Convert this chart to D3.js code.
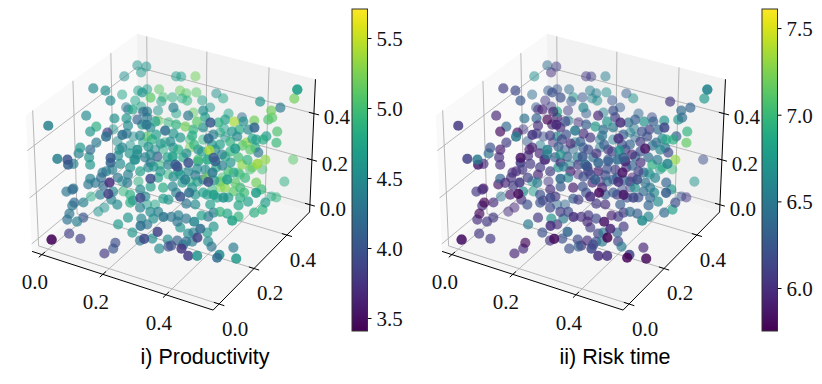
<!DOCTYPE html>
<html>
<head>
<meta charset="utf-8">
<script src="https://cdn.jsdelivr.net/npm/d3@7"></script>
<style>
  html, body { margin: 0; background: #fff; }
  svg { display: block; }
  .tick-label { font-family: "Liberation Serif", serif; font-size: 21px; fill: #111; }
  .panel-title { font-family: "Liberation Sans", sans-serif; font-size: 21.5px; fill: #000; }
</style>
</head>
<body>
<div id="chart"></div>
<script>
// positions of the samples
const xValues = [
  .029,.052,.043,.004,.009,.040,.012,.059,.011,.002,
  .043,.032,.074,.145,.015,.121,.182,.070,.054,.019,
  .019,.045,.047,.046,.070,.034,.069,.170,.115,.116,
  .142,.227,.161,.098,.182,.049,.070,.130,.100,.154,
  .116,.114,.049,.031,.118,.068,.113,.146,.155,.038,
  .110,.081,.137,.121,.159,.152,.231,.279,.147,.173,
  .187,.153,.133,.153,.211,.193,.236,.160,.133,.146,
  .181,.502,.502,.501,.245,.266,.421,.474,.454,.461,
  .453,.153,.170,.195,.164,.178,.139,.215,.240,.290,
  .216,.160,.257,.202,.290,.326,.372,.420,.394,.380,
  .283,.335,.258,.301,.412,.486,.290,.390,.331,.386,
  .390,.483,.460,.438,.455,.428,.416,.489,.299,.377,
  .409,.455,.354,.335,.246,.213,.253,.305,.396,.411,
  .375,.452,.243,.219,.234,.314,.274,.312,.398,.431,
  .474,.484,.279,.283,.014,.014,.052,.083,.170,.169,
  .151,.016,.029,.031,.064,.065,.065,.043,.040,.039,
  .038,.063,.075,.037,.049,.008,.090,.098,.090,.184,
  .101,.189,.100,.129,.130,.148,.164,.183,.204,.286,
  .216,.234,.330,.228,.303,.256,.294,.301,.280,.245,
  .334,.252,.153,.173,.255,.267,.183,.178,.210,.085,
  .172,.115,.157,.075,.277,.180,.197,.153,.127,.173,
  .055,.075,.014,.209,.157,.184,.228,.247,.478,.518,
  .448,.414,.357,.406,.457,.380,.415,.338,.418,.325,
  .290,.269,.359,.377,.329,.358,.436,.384,.461,.411,
  .396,.419,.433,.446,.468,.534,.485,.462,.441,.456,
  .469,.504,.502,.484,.497,.449,.420,.401,.386,.376,
  .359,.409,.324,.303,.287,.305,.316,.428,.385,.396,
  .339,.351,.427,.355,.340,.318,.307,.335,.397,.418,
  .439,.393,.405,.490,.487,.458,.532,.326,.355,.313,
  .417,.374,.392,.316,.321,.362,.422,.384,.346,.323,
  .279,.264,.359,.332,.304,.347,.244,
  .174,.193,.210,.232,.257,.279,.292,.316,.346,.366,
  .384,.407,.431,.199,.229,.243,.272,.296,.316,.365,
  .393,.361,.336,.317,.282,.268,.314,.216,.193,.153,
  .131,.158,.120,.183,.155,.119,.182,.234,.281,.299,
  .349,.374,.441,.438,.418,.372,.440,.336,.112,.080,
  .233,.205
];
const yValues = [
  .443,.454,.440,.411,.238,.252,.385,.247,.195,.020,
  .196,.181,.204,.085,.329,.230,.109,.349,.177,.148,
  .139,.159,.149,-.007,.006,.320,.333,.066,.200,.191,
  .210,.112,.219,.356,.227,.413,.428,.301,.445,.306,
  .441,.433,.396,.375,.267,.397,.416,.279,.285,.375,
  .248,.231,.262,.404,.278,.263,.154,.172,.417,.255,
  .258,.388,.364,.376,.245,.237,.258,.210,.485,.492,
  .513,.521,.521,.506,.522,.525,.454,.475,.459,.452,
  .444,.473,.479,.494,.466,.471,.454,.493,.495,.364,
  .326,.439,.337,.465,.514,.529,.394,.423,.407,.242,
  .342,.371,.320,.344,.404,.296,.489,.392,.349,.221,
  .380,.442,.421,.403,.412,.399,.386,.427,.480,.364,
  .376,.246,.346,.335,.445,.426,.300,.310,.209,.205,
  .339,.390,.278,.416,.295,.152,.280,.298,.195,.366,
  .391,.549,.328,.478,-.003,-.003,.029,.038,.082,.072,
  .054,.076,.086,.089,.115,.124,.086,.073,.067,.053,
  .043,.054,.068,.205,.219,.213,.149,.156,.141,.036,
  .134,.021,.119,.141,.129,.131,.108,.130,.118,.027,
  .147,.149,.043,.119,.017,.139,.159,.151,.136,.164,
  .068,.179,.284,.295,.202,.059,.158,.151,.180,.266,
  .161,.300,.171,.277,.096,.203,.219,.194,.184,.061,
  .141,.001,.119,.227,.352,.352,.220,.215,.509,.257,
  .364,.493,.454,.332,.199,.302,.170,.281,.187,.270,
  .248,.230,.115,.132,.252,.268,.162,.278,.172,.294,
  .301,.309,.322,.322,.351,.222,.350,.316,.299,.472,
  .478,.339,.327,.312,.157,.285,.273,.265,.255,.243,
  .235,.104,.210,.203,.191,.194,.191,.104,.222,.238,
  .195,.203,.090,.190,.182,.171,.156,.174,.056,.056,
  .068,.213,.211,.100,.093,.241,.118,.146,.166,.296,
  .204,.324,.339,.285,.425,.455,.353,.475,.288,.410,
  .255,.243,.142,.146,.396,.265,.374,
  .270,.269,.265,.281,.282,.289,.310,.313,.334,.337,
  .352,.357,.382,.228,.231,.250,.256,.270,.275,.295,
  .326,.314,.296,.255,.227,.208,.228,.199,.181,.182,
  .164,.209,.207,.244,.246,.241,.284,.310,.318,.359,
  .384,.379,.392,.341,.321,.261,.310,.240,.166,.126,
  .168,.159
];
const zValues = [
  .488,.484,.464,.451,.505,.498,.391,.466,.417,.482,
  .382,.366,.363,.448,.275,.359,.454,.251,.330,.314,
  .295,.308,.282,.379,.376,.235,.222,.382,.308,.288,
  .295,.407,.292,.231,.282,.404,.408,.492,.408,.476,
  .381,.368,.371,.348,.437,.351,.338,.430,.430,.341,
  .408,.408,.404,.305,.411,.388,.485,.467,.298,.350,
  .340,.231,.208,.208,.285,.292,.282,.275,.451,.451,
  .451,.501,.501,.472,.394,.378,.463,.443,.434,.411,
  .404,.404,.394,.398,.378,.371,.381,.371,.348,.434,
  .443,.328,.417,.331,.328,.315,.398,.401,.398,.492,
  .398,.395,.382,.379,.372,.476,.278,.372,.356,.442,
  .350,.366,.350,.340,.340,.343,.330,.330,.248,.333,
  .321,.410,.324,.324,.241,.241,.346,.308,.404,.382,
  .285,.298,.314,.215,.359,.385,.282,.275,.376,.275,
  .275,.175,.372,.265,.017,.017,.036,.020,.007,-.012,
  -.028,.172,.179,.182,.195,.214,.137,.137,.127,.101,
  .082,.075,.088,.002,.015,.052,.233,.237,.217,.304,
  .191,.269,.162,.172,.146,.130,.066,.088,.040,.169,
  .085,.066,.150,.014,.128,.020,.017,-.005,-.012,.085,
  .197,.107,.025,.025,.149,.257,.143,.137,.156,.069,
  .162,.102,.201,.102,.316,.237,.250,.250,.262,.366,
  .259,.360,.262,.253,.158,.125,.217,.185,.102,.363,
  .250,.142,.132,.233,.313,.204,.307,.211,.335,.204,
  .201,.188,.260,.272,.162,.162,.266,.153,.257,.153,
  .185,.172,.185,.169,.201,.272,.179,.140,.127,.052,
  .049,.137,.114,.104,.185,.091,.101,.107,.104,.091,
  .095,.182,.085,.095,.091,.075,.056,.160,.040,.059,
  .036,.040,.132,.011,.011,.014,-.002,.001,.097,.075,
  .075,.011,-.005,.078,.069,-.009,.066,.360,.366,.269,
  .370,.256,.266,.246,.115,.125,.259,.142,.217,.082,
  .227,.220,.313,.354,.075,.169,.102,
  .379,.356,.327,.333,.308,.295,.324,.301,.308,.292,
  .301,.282,.308,.266,.237,.259,.237,.237,.224,.208,
  .237,.250,.243,.185,.169,.146,.133,.188,.179,.227,
  .217,.275,.314,.317,.353,.385,.398,.388,.353,.411,
  .404,.366,.314,.217,.201,.130,.153,.130,.243,.201,
  .107,.120
];
const productivity = [
  4.6,4.6,4.65,4.55,4.5,4.55,4.75,4.5,4.5,4.4,
  4.85,4.6,3.8,4.25,4.6,4.3,4.25,4.55,4.35,4.6,
  4.4,4.2,4.6,4.4,4.0,4.5,4.6,4.05,4.55,4.5,
  4.6,4.55,4.5,4.7,4.4,4.7,4.7,4.6,5.1,5.1,
  5.0,4.7,4.75,4.3,4.75,4.7,4.6,4.2,4.4,4.3,
  4.6,4.55,4.15,5.15,4.35,4.6,4.3,4.25,4.9,5.1,
  4.85,4.9,4.5,4.8,4.1,4.5,4.7,4.55,4.65,4.7,
  5.2,4.7,4.7,5.2,4.55,4.75,4.6,4.35,5.2,5.1,
  5.05,5.15,5.1,5.1,4.85,4.9,4.85,4.7,4.6,4.55,
  4.4,4.75,4.3,5.15,4.75,4.2,5.4,5.2,4.55,4.05,
  5.1,4.85,5.2,4.55,4.5,4.15,4.75,4.8,4.4,4.2,
  4.5,5.05,4.7,4.65,4.8,4.75,5.3,4.95,4.6,4.9,
  5.1,4.65,4.7,4.6,4.9,5.0,4.6,4.55,5.4,4.05,
  4.85,4.3,4.6,5.2,4.6,4.7,4.8,5.0,4.8,4.9,
  5.3,5.1,4.9,4.8,3.45,3.45,3.85,3.85,3.95,4.0,
  3.8,4.3,4.2,4.25,4.3,4.4,4.4,4.2,4.35,4.3,
  4.25,4.4,4.0,4.6,4.55,4.8,4.3,4.3,4.2,3.7,
  4.2,3.85,4.4,4.5,4.45,4.5,4.65,4.6,4.6,4.25,
  4.45,4.3,3.85,4.35,3.9,4.55,4.5,3.95,4.5,4.55,
  4.3,4.4,4.65,4.75,4.7,3.95,4.35,4.8,4.5,4.9,
  4.85,4.85,4.35,4.6,3.95,4.7,4.5,4.6,4.5,4.15,
  4.6,4.1,4.4,4.6,4.9,4.9,4.7,4.8,4.85,5.35,
  5.15,5.0,5.0,4.7,4.7,5.15,3.95,4.3,4.35,4.7,
  4.6,4.45,4.0,4.25,4.6,4.65,4.7,4.7,4.6,4.65,
  5.3,5.1,4.95,5.0,5.2,4.7,4.95,4.7,4.75,4.8,
  4.9,4.7,4.9,4.85,4.75,4.9,4.75,4.9,4.4,4.3,
  4.7,4.45,4.3,4.4,4.3,4.3,4.6,4.2,4.65,4.6,
  4.5,4.4,3.85,4.35,4.2,4.1,3.95,4.3,3.75,3.8,
  4.6,4.5,4.3,4.5,4.2,4.35,4.65,4.15,4.0,4.55,
  4.1,4.35,4.6,4.5,5.0,4.95,5.3,5.0,5.2,5.2,
  4.6,4.5,4.4,4.0,4.9,4.7,4.9,
  4.5,4.7,4.6,4.5,4.8,4.5,4.9,4.7,4.5,4.4,
  4.9,5.0,5.1,4.3,4.6,4.4,4.7,4.5,4.3,4.6,
  5.0,4.8,4.55,4.6,4.4,4.6,4.3,4.7,4.5,4.4,
  4.3,4.5,4.4,4.6,4.5,4.5,4.7,4.9,4.8,4.7,
  4.7,4.6,4.85,4.95,5.1,4.7,4.85,4.5,4.4,4.3,
  4.5,4.4
];
const riskTime = [
  6.4,6.1,6.0,6.65,6.1,6.15,6.4,6.25,5.95,6.05,
  6.4,5.8,5.85,6.5,6.1,6.1,6.05,6.2,6.1,6.2,
  6.45,5.9,6.0,6.1,6.5,6.3,6.55,5.85,5.9,6.0,
  5.95,6.55,6.55,6.0,6.3,6.3,6.25,6.2,6.4,6.2,
  6.7,6.25,6.05,6.3,5.95,6.1,6.1,5.95,6.85,5.95,
  6.35,6.45,5.75,6.55,5.95,6.0,5.95,6.5,6.0,6.6,
  6.1,6.65,6.3,6.4,6.35,6.7,6.5,5.95,6.05,6.1,
  6.55,6.6,6.6,6.75,6.3,6.7,6.05,6.35,6.4,6.4,
  6.75,6.55,6.5,6.65,6.6,6.65,6.25,6.25,6.3,6.2,
  6.6,6.3,5.95,6.6,6.35,6.2,6.7,6.7,6.3,6.0,
  6.7,6.4,6.75,6.5,6.4,6.15,6.5,6.1,6.3,6.0,
  6.2,6.95,6.3,6.85,6.9,6.6,6.4,7.15,6.4,6.1,
  6.45,5.85,6.35,6.2,6.6,6.5,6.05,6.05,6.7,6.3,
  6.4,6.15,6.3,6.55,6.0,6.25,6.4,6.3,6.4,6.5,
  7.3,6.2,6.4,6.6,5.85,5.85,6.05,6.05,5.8,6.0,
  5.95,6.05,6.0,5.85,5.85,6.35,6.0,5.75,6.0,5.8,
  6.0,6.05,6.05,6.0,5.95,6.45,6.0,5.95,6.0,6.05,
  6.1,5.8,5.9,6.65,6.0,6.2,6.5,6.05,6.2,6.0,
  6.7,6.0,6.35,6.05,5.8,6.2,6.15,6.3,6.2,6.5,
  6.0,6.15,6.4,6.35,6.3,6.15,6.1,6.2,6.05,6.75,
  6.2,6.05,6.5,6.75,6.4,6.1,6.7,6.1,6.05,6.1,
  6.0,5.9,6.0,6.5,6.55,6.0,6.6,5.9,6.7,6.6,
  6.9,7.0,6.75,6.4,6.2,6.1,6.0,6.3,5.85,6.4,
  5.95,6.2,6.0,5.8,6.3,6.1,5.85,6.2,6.15,6.2,
  6.7,6.4,6.5,6.65,6.35,6.3,6.75,6.65,6.35,6.25,
  6.05,6.2,6.8,6.4,6.65,6.6,6.3,6.4,6.1,6.1,
  5.95,5.85,6.15,6.05,6.0,5.95,6.1,5.95,6.35,6.05,
  6.1,6.5,5.75,6.5,6.2,6.0,6.0,6.15,6.15,6.0,
  6.0,6.1,6.5,6.1,5.75,5.95,5.8,6.4,6.35,6.3,
  5.95,6.35,6.0,6.2,5.9,6.65,6.9,6.7,6.3,6.1,
  6.15,6.2,6.3,6.2,6.2,6.25,5.95,
  6.0,6.2,5.95,6.3,6.15,6.0,6.3,6.1,6.05,5.95,
  6.2,6.4,6.6,6.0,5.9,6.1,6.05,5.9,6.15,6.3,
  6.1,6.0,6.1,5.95,6.2,6.1,6.05,6.25,6.0,5.95,
  6.1,6.0,5.9,6.3,6.1,6.0,6.15,6.3,6.45,6.1,
  6.3,6.2,6.5,6.6,6.45,6.3,6.35,6.0,6.05,5.95,
  6.1,6.15
];

const axisTicks = [0, 0.2, 0.4];
const productivityTicks = [3.5, 4.0, 4.5, 5.0, 5.5];
const riskTicks = [6.0, 6.5, 7.0, 7.5];

const width = 822, height = 384;
const lo = -0.033, hi = 0.545;      // axis limits, same on all three axes

const svg = d3.select("#chart").append("svg")
  .attr("width", width)
  .attr("height", height);

// box coordinates of matplotlib's default 3d view (elev 30, azim -60, dist 10)
const sx = d3.scaleLinear().domain([lo, hi]).range([-0.5715, 0.5715]);
const sy = d3.scaleLinear().domain([lo, hi]).range([-0.5715, 0.5715]);
const sz = d3.scaleLinear().domain([lo, hi]).range([-0.4285, 0.4285]);
const screenX = d3.scaleLinear().domain([0, 0.1]).range([173.3, 354.8]);
const screenY = d3.scaleLinear().domain([0, 0.1]).range([165.6, -15.4]);
const alpha = d3.scaleLinear().domain([-0.6, 0.6]).range([0.35, 1]).clamp(true);

function depth(x, y, z) {
  return 0.433 * sx(x) - 0.75 * sy(y) + 0.5 * sz(z);
}
function project(x, y, z) {
  const dx = sx(x), dy = sy(y), dz = sz(z);
  const k = 10 - depth(x, y, z);
  const xv = 0.866 * dx + 0.5 * dy;
  const yv = -0.25 * dx + 0.433 * dy + 0.866 * dz;
  return [screenX(xv / k), screenY(yv / k)];
}
const line3d = d3.line().x(p => project(...p)[0]).y(p => project(...p)[1]);

function drawPanel(offset, values, colorTicks, colorDomain, barX, title, titleX) {
  const g = svg.append("g").attr("transform", "translate(" + offset + ",0)");

  // panes
  const panes = [
    { fill: "#f9f9f9", pts: [[lo,lo,lo],[lo,hi,lo],[lo,hi,hi],[lo,lo,hi]] },
    { fill: "#f2f2f2", pts: [[lo,hi,lo],[hi,hi,lo],[hi,hi,hi],[lo,hi,hi]] },
    { fill: "#f5f5f5", pts: [[lo,lo,lo],[hi,lo,lo],[hi,hi,lo],[lo,hi,lo]] }
  ];
  g.selectAll(".pane").data(panes).enter().append("path")
    .attr("d", d => line3d(d.pts) + "Z")
    .attr("fill", d => d.fill);

  // grid
  const grid = [];
  axisTicks.forEach(t => {
    grid.push([[t,lo,lo],[t,hi,lo],[t,hi,hi]]);
    grid.push([[hi,t,lo],[lo,t,lo],[lo,t,hi]]);
    grid.push([[lo,lo,t],[lo,hi,t],[hi,hi,t]]);
  });
  g.selectAll(".grid").data(grid).enter().append("path")
    .attr("d", line3d)
    .attr("fill", "none")
    .attr("stroke", "#b0b0b0")
    .attr("stroke-width", 0.9);

  // axis lines
  const spines = [
    [[lo,lo,lo],[hi,lo,lo]],
    [[hi,lo,lo],[hi,hi,lo]],
    [[hi,hi,lo],[hi,hi,hi]]
  ];
  g.selectAll(".spine").data(spines).enter().append("path")
    .attr("d", line3d)
    .attr("fill", "none")
    .attr("stroke", "#000")
    .attr("stroke-width", 1);

  // ticks and their labels
  const tickLen = 0.016;
  axisTicks.forEach(t => {
    const marks = [
      { a: [t, lo + tickLen, lo], b: [t, lo - tickLen, lo], at: [t, lo, lo], dx: -7, dy: 30 },
      { a: [hi - tickLen, t, lo], b: [hi + tickLen, t, lo], at: [hi, t, lo], dx: 16, dy: 27 },
      { a: [hi - tickLen, hi, t], b: [hi + tickLen, hi, t], at: [hi, hi, t], dx: 23, dy: 6 }
    ];
    marks.forEach(m => {
      g.append("path").attr("d", line3d([m.a, m.b]))
        .attr("stroke", "#000").attr("stroke-width", 1).attr("fill", "none");
      const p = project(...m.at);
      g.append("text").attr("class", "tick-label")
        .attr("x", p[0] + m.dx).attr("y", p[1] + m.dy)
        .attr("text-anchor", "middle")
        .attr("dominant-baseline", "middle")
        .text(d3.format(".1f")(t));
    });
  });

  // points, far ones first
  const color = d3.scaleSequential(d3.interpolateViridis).domain(colorDomain);
  const points = xValues.map((x, i) => ({ x: x, y: yValues[i], z: zValues[i], c: values[i] }));
  points.sort((a, b) => depth(a.x, a.y, a.z) - depth(b.x, b.y, b.z));
  g.selectAll(".point").data(points).enter().append("circle")
    .attr("cx", d => project(d.x, d.y, d.z)[0])
    .attr("cy", d => project(d.x, d.y, d.z)[1])
    .attr("r", 5.1)
    .attr("fill", d => color(d.c))
    .attr("fill-opacity", d => alpha(depth(d.x, d.y, d.z)));

  svg.append("text").attr("class", "panel-title")
    .attr("x", titleX).attr("y", 364)
    .attr("text-anchor", "middle")
    .text(title);

  // colorbar
  const barTop = 9, barBottom = 331, barW = 15.5;
  const barScale = d3.scaleLinear().domain(colorDomain).range([barBottom, barTop]);
  const gradId = "grad" + offset;
  const grad = svg.append("defs").append("linearGradient").attr("id", gradId)
    .attr("x1", 0).attr("y1", 1).attr("x2", 0).attr("y2", 0);
  d3.range(0, 1.01, 0.05).forEach(t => {
    grad.append("stop").attr("offset", t).attr("stop-color", d3.interpolateViridis(t));
  });
  svg.append("rect")
    .attr("x", barX).attr("y", barTop)
    .attr("width", barW).attr("height", barBottom - barTop)
    .attr("fill", "url(#" + gradId + ")");
  const barAxis = d3.axisRight(barScale)
    .tickValues(colorTicks)
    .tickFormat(d3.format(".1f"))
    .tickSize(4)
    .tickPadding(5);
  const ax = svg.append("g")
    .attr("transform", "translate(" + (barX + barW) + ",0)")
    .call(barAxis);
  ax.select(".domain").remove();
  ax.selectAll("line").attr("stroke", "#000");
  ax.selectAll("text").attr("class", "tick-label").attr("dy", "0.35em");
  svg.append("rect")
    .attr("x", barX).attr("y", barTop)
    .attr("width", barW).attr("height", barBottom - barTop)
    .attr("fill", "none").attr("stroke", "#333").attr("stroke-width", 1);
}

drawPanel(0, productivity, productivityTicks, [3.407, 5.707], 352, "i) Productivity", 205);
drawPanel(410, riskTime, riskTicks, [5.752, 7.61], 762, "ii) Risk time", 615);
</script>
</body>
</html>
